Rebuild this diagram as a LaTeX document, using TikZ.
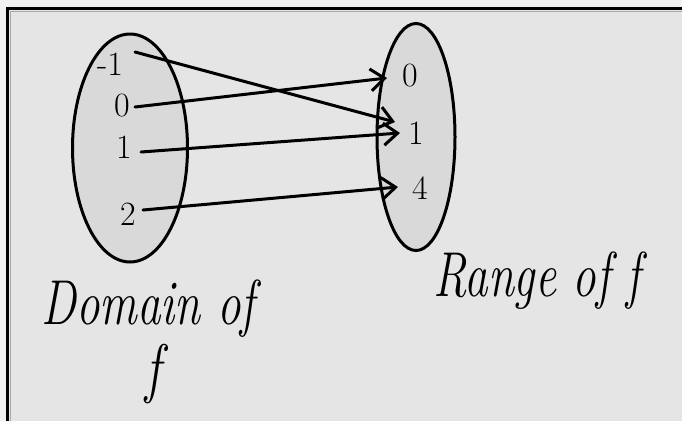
\documentclass[tikz,border=0pt]{standalone}
\usetikzlibrary{arrows.meta,shapes.geometric}
\definecolor{outerbg}{HTML}{F0F0F0}
\definecolor{innerbg}{HTML}{E5E5E5}
\definecolor{setfill}{HTML}{D9D9D9}
\definecolor{rimgray}{HTML}{A8A8A8}
\begin{document}
\begin{tikzpicture}[x=1pt,y=-1pt,
  setbox/.style={ellipse,draw=black,line width=3pt,fill=setfill,inner sep=0pt},
  digit/.style={inner sep=0pt,font=\fontsize{34}{34}\selectfont},
  hand/.style={inner sep=0pt,font=\fontsize{47}{47}\selectfont\itshape},
  arr/.style={line width=3pt,line cap=round,-{Straight Barb[length=14pt,width=22pt]}}]
\useasboundingbox (0,0) rectangle (682,421);
\fill[outerbg] (0,0) rectangle (682,421);
\fill[innerbg] (7.5,8.5) rectangle (682,421);
\draw[rimgray,line width=1pt] (10,421) -- (10,11) -- (682,11);
\draw[black,line width=3pt] (7.5,421) -- (7.5,8.5) -- (682,8.5);
% sets
\node[setbox,minimum width=115pt,minimum height=228pt] (dom) at (130,148) {};
\node[setbox,minimum width=78pt,minimum height=227pt] (rng) at (416,137) {};
% elements
\node[digit] (lm1) at (110,64) {-1};
\node[digit] (l0) at (122,106) {0};
\node[digit] (l1) at (124,147) {1};
\node[digit] (l2) at (128,214) {2};
\node[digit] (r0) at (410,76) {0};
\node[digit] (r1) at (416,133) {1};
\node[digit] (r4) at (420,188) {4};
% mapping
\draw[arr] ([shift={(25,-12)}]lm1.center) -- ([shift={(-21,-11)}]r1.center);
\draw[arr] ([shift={(13,1)}]l0.center) -- ([shift={(-23,2)}]r0.center);
\draw[arr] ([shift={(17,5)}]l1.center) -- ([shift={(-16,0)}]r1.center);
\draw[arr] ([shift={(15,-4)}]l2.center) -- ([shift={(-22,-1)}]r4.center);
% labels
\node[hand,anchor=base] (domlbl) at (148,324) {\scalebox{1}[1.35]{Domain of}};
\node[hand,anchor=base] (domf) at (153,390) {\scalebox{1.1}[1.4]{f}};
\node[hand,anchor=base] (rnglbl) at (537,296) {\scalebox{1}[1.35]{Range of f}};
\end{tikzpicture}
\end{document}
